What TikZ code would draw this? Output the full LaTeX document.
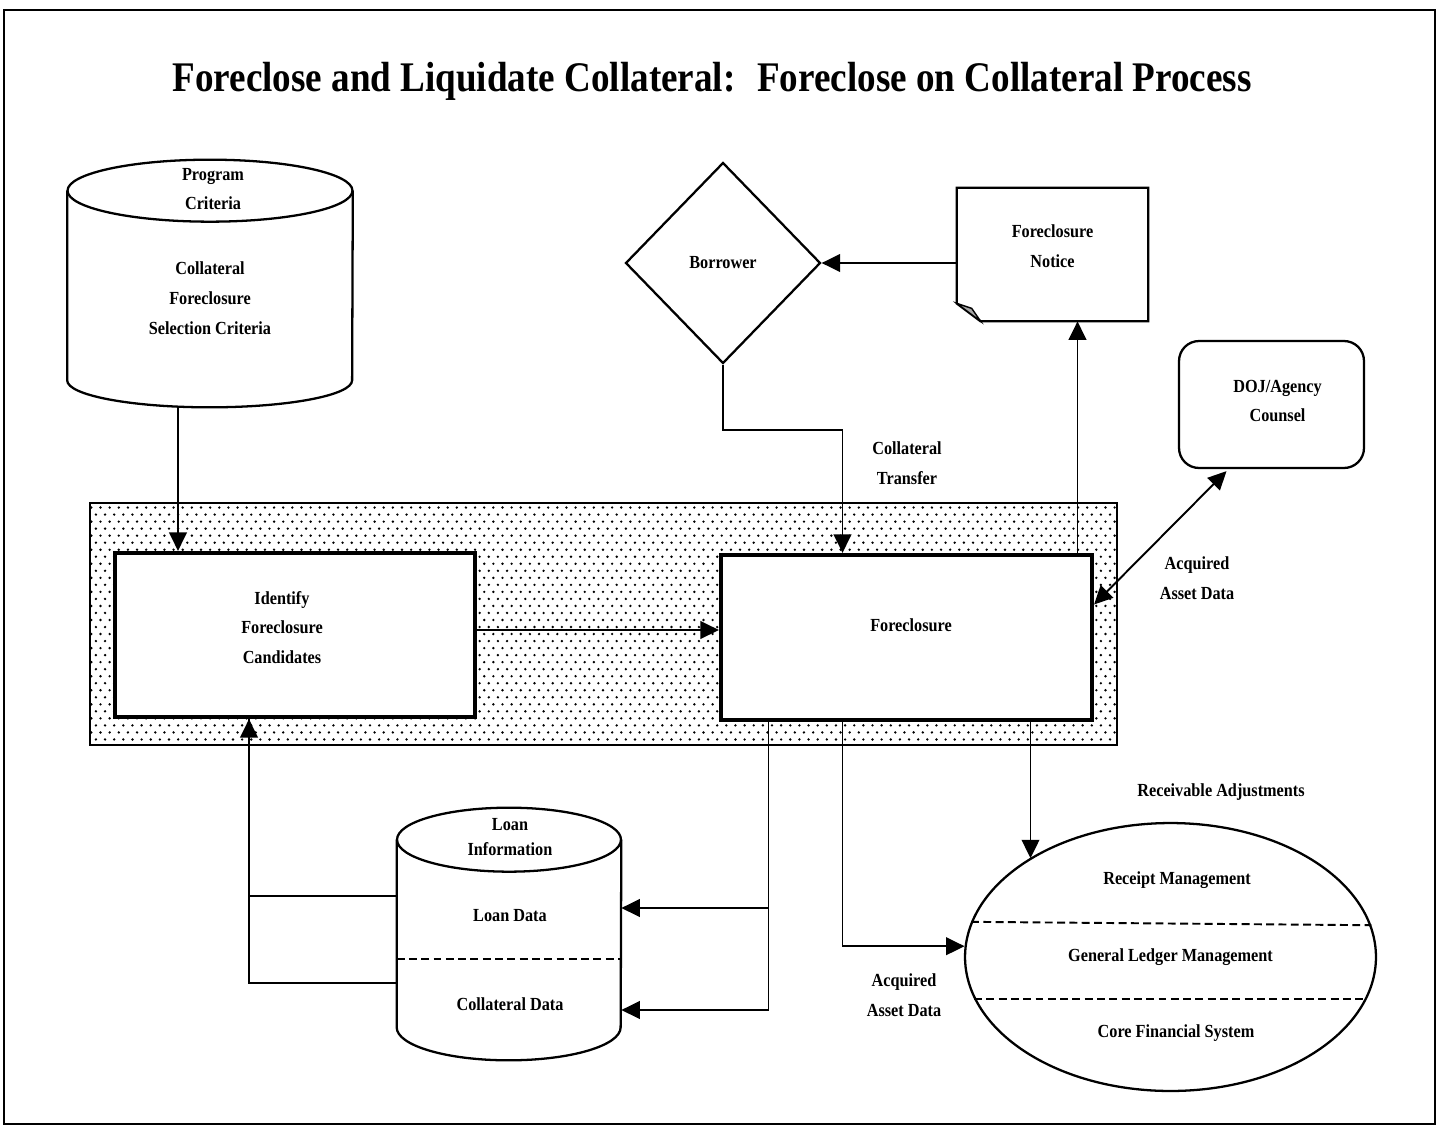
\documentclass[tikz,border=0pt]{standalone}
\usepackage{fontspec}
\setmainfont{Liberation Serif}[FakeStretch=0.88]
\usetikzlibrary{arrows.meta,shapes.geometric,patterns,calc,positioning}

\pgfdeclarepatternformonly{sparse dots}{\pgfqpoint{-1pt}{-1pt}}{\pgfqpoint{4pt}{5pt}}{\pgfqpoint{5.2pt}{8pt}}{%
  \pgfpathcircle{\pgfqpoint{0pt}{0pt}}{0.75pt}%
  \pgfpathcircle{\pgfqpoint{2.6pt}{4pt}}{0.75pt}%
  \pgfusepath{fill}}

\begin{document}
\begin{tikzpicture}[
    x=0.02cm, y=-0.02cm,
    lbl/.style={font=\fontsize{10.5}{17}\selectfont\bfseries, align=center, inner sep=1pt},
    procbox/.style={rectangle, draw, line width=2.4pt, fill=white, lbl},
    store/.style={rectangle, inner sep=0pt},
    storeline/.style={line width=1.3pt},
    zone/.style={rectangle, draw, line width=1.1pt, pattern=sparse dots},
    conn/.style={line width=1.1pt},
    arr/.style={conn, -{Triangle[length=10.5pt,width=10pt]}},
    dblarr/.style={conn, {Triangle[length=10.5pt,width=10pt]}-{Triangle[length=10.5pt,width=10pt]}},
    sep/.style={line width=1.1pt, dash pattern=on 4.5pt off 2.5pt}
]
\useasboundingbox (0,0) rectangle (1443,1126);
\draw[line width=1.3pt] (4,10) rectangle (1435,1124);

% Titre
\node[font=\fontsize{24}{28}\selectfont\bfseries] (title) at (712,81) {Foreclose and Liquidate Collateral:~ Foreclose on Collateral Process};

% Zone de traitement
\node[zone, minimum width=20.54cm, minimum height=4.84cm] (zone) at (603.5,624) {};
\node[procbox, minimum width=7.2cm, minimum height=3.28cm,
      label={[lbl, xshift=-0.26cm, yshift=0.15cm]center:Identify\\Foreclosure\\Candidates}] (cand) at (295,635) {};
\node[procbox, minimum width=7.42cm, minimum height=3.3cm,
      label={[lbl, xshift=0.09cm, yshift=0.25cm]center:Foreclosure}] (fore) at (906.5,637.5) {};

% Stockages
\node[store, minimum width=5.7cm, minimum height=4.94cm] (prog) at (210,283.5) {};
\draw[storeline] ($(prog.north west)+(0,31)$) -- ($(prog.south west)+(0,-27)$)
    arc[start angle=180, end angle=360, x radius=2.85cm, y radius=0.54cm]
    -- ($(prog.north east)+(0,31)$);
\draw[storeline] ($(prog.north)+(0,31)$) ellipse [x radius=2.85cm, y radius=0.62cm];
\node[lbl] (progtop) at (213,189) {Program\\Criteria};
\node[lbl] (progbody) at (210,298) {Collateral\\Foreclosure\\Selection Criteria};

\node[store, minimum width=4.48cm, minimum height=5.04cm] (loan) at (509,934) {};
\draw[storeline] ($(loan.north west)+(0,32)$) -- ($(loan.south west)+(0,-33)$)
    arc[start angle=180, end angle=360, x radius=2.24cm, y radius=0.66cm]
    -- ($(loan.north east)+(0,32)$);
\draw[storeline] ($(loan.north)+(0,32)$) ellipse [x radius=2.24cm, y radius=0.64cm];
\node[lbl, font=\fontsize{10.5}{14.5}\selectfont\bfseries] (loantop) at (510,837) {Loan\\Information};
\node[lbl] (ldata) at (510,916) {Loan Data};
\node[lbl] (cdata) at (510,1004) {Collateral Data};
\draw[sep] ($(loan.west)+(0,25)$) -- ($(loan.east)+(0,25)$);

% Acteurs externes
\node[diamond, draw, line width=1.3pt, minimum width=3.9cm, minimum height=4.02cm, inner sep=0pt, lbl] (bor) at (723,263) {Borrower};
\node[minimum width=3.82cm, minimum height=2.66cm,
      label={[lbl, yshift=0.16cm]center:Foreclosure\\Notice}] (note) at (1052.5,254.5) {};
\draw[line width=1.3pt] (note.north west) -- (note.north east) -- (note.south east)
    -- ($(note.south west)+(24,0)$) -- ($(note.south west)+(0,-18)$) -- cycle;
\filldraw[line width=0.8pt, fill=gray!70] ($(note.south west)+(0,-18)$) -- ($(note.south west)+(15,-13)$) -- ($(note.south west)+(24,0)$) -- cycle;
\node[draw, rounded corners=0.4cm, line width=1.3pt, minimum width=3.7cm, minimum height=2.54cm,
      label={[lbl, xshift=0.12cm, yshift=0.07cm]center:DOJ/Agency\\Counsel}] (doj) at (1271.5,404.5) {};

% Systeme financier
\node[ellipse, draw, line width=1.3pt, minimum width=8.22cm, minimum height=5.36cm, inner sep=0pt, lbl] (fin) at (1170.5,957) {General Ledger Management};
\node[lbl] (rm) at (1177,880) {Receipt Management};
\node[lbl] (cfs) at (1176,1033) {Core Financial System};
\draw[sep] (fin.170.3) -- (fin.9.7);
\draw[sep] (fin.192.1) -- (fin.-12.1);

% Connexions
\coordinate (pc) at ($(prog.south)+(-32,0)$);
\draw[arr] (pc) -- (pc |- cand.north);
\draw[arr] ($(cand.east)+(0,-5)$) -- ($(cand.east -| fore.west)+(0,-5)$);

\coordinate (ct) at ($(fore.north)+(-64,0)$);
\draw[arr] (bor.south) -- ++(0,65) -| (ct);
\node[lbl] (ctlbl) at (907,463) {Collateral\\Transfer};

\draw[arr] (note.west |- bor.east) -- (bor.east);
\coordinate (fn) at ($(fore.north)+(171,0)$);
\draw[arr] (fn) -- (fn |- note.south);

\draw[dblarr] ($(doj.south)+(-45,2)$) -- ($(fore.east)+(0,-33)$);
\node[lbl] (aqlbl1) at (1197,578) {Acquired\\Asset Data};

\coordinate (fl) at ($(fore.south)+(-138,0)$);
\draw[arr] (fl) |- ($(loan.east)+(0,-26)$);
\draw[arr] (fl) |- ($(loan.east)+(0,76)$);

\coordinate (lc) at ($(cand.south)+(-46,0)$);
\draw[arr] ($(loan.west)+(0,-38)$) -| (lc);
\draw[conn] ($(loan.west)+(0,49)$) -| (lc);

\coordinate (fa) at ($(fore.south)+(-64,0)$);
\draw[arr] (fa) |- (fin.177.5);
\node[lbl] (aqlbl2) at (904,995) {Acquired\\Asset Data};

\coordinate (fr) at ($(fore.south)+(124,0)$);
\draw[arr] (fr) -- (fr |- fin.145);
\node[lbl] (ralbl) at (1221,792) {Receivable Adjustments};

\end{tikzpicture}
\end{document}
